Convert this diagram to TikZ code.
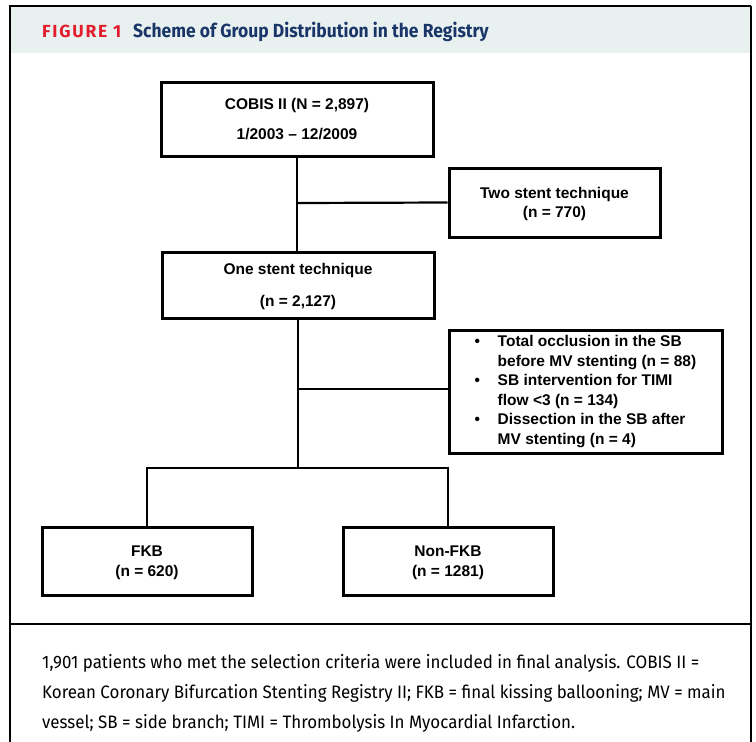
\documentclass[tikz,border=0pt]{standalone}
\usepackage{fontspec}
\setmainfont{Liberation Sans}
\newfontfamily\capfont{Fira Sans}[FakeStretch=0.94]
\newfontfamily\headfont{Fira Sans}[FakeStretch=0.92]
\newfontfamily\figfont{Fira Sans}[LetterSpace=10]
\definecolor{figred}{HTML}{E31D2D}
\definecolor{navy}{HTML}{1A3668}
\definecolor{headbg}{HTML}{E8F1F0}
\newcommand{\bul}{\textbullet}
\begin{document}
\begin{tikzpicture}[x=1pt,y=-1pt,
    box/.style={draw, line width=3pt, inner sep=0pt, align=center,
        font=\bfseries\fontsize{15.5}{19.5}\selectfont, text depth=-3pt},
    listbox/.style={draw, line width=3pt, inner sep=0pt, align=left,
        font=\bfseries\fontsize{15.5}{19.5}\selectfont},
    link/.style={line width=2.2pt}]
\path[use as bounding box] (0,0) rectangle (756,742);
% frame and header
\fill[headbg] (10,6) rectangle (751,53);
\draw[line width=1.6pt] (10,742) -- (10,6) -- (751,6);
\draw[line width=2.4pt] (751,6) -- (751,742);
\draw[line width=1.4pt] (10,624) -- (751,624);
\node[anchor=base west, inner sep=0, text=figred, font=\figfont\bfseries\fontsize{17.5}{20}\selectfont] (fig) at (42,37.5) {FIGURE 1};
\node[anchor=base west, inner sep=0, text=navy, font=\headfont\bfseries\fontsize{19}{20}\selectfont] (title) at (133,37.5) {Scheme of Group Distribution in the Registry};
% boxes
\node[box, minimum width=272pt, minimum height=74pt] (cobis) at (297,119) {COBIS II (N = 2,897)\\[11pt]1/2003 – 12/2009};
\node[box, minimum width=211pt, minimum height=69pt] (two) at (554.5,202.5) {Two stent technique\\(n = 770)};
\node[box, minimum width=272pt, minimum height=66pt] (one) at (298,285) {One stent technique\\[13pt](n = 2,127)};
\node[listbox, minimum width=273pt, minimum height=123pt] (excl) at (585.5,391.5) {%
    \begin{tabular}{@{}p{23pt}@{}l@{}}
    \bul & Total occlusion in the SB\\
         & before MV stenting (n = 88)\\
    \bul & SB intervention for TIMI\\
         & flow <3 (n = 134)\\
    \bul & Dissection in the SB after\\
         & MV stenting (n = 4)
    \end{tabular}};
\node[box, minimum width=210pt, minimum height=68pt] (fkb) at (147,561) {FKB\\(n = 620)};
\node[box, minimum width=210pt, minimum height=68pt] (nonfkb) at (448,561) {Non-FKB\\(n = 1281)};
% connectors
\coordinate (b1) at (298,203);
\coordinate (b2) at (298,389);
\coordinate (split) at (298,468);
\draw[link] (cobis.south) -- (cobis.south |- one.north);
\draw[link] (b1) -- (two.west);
\draw[link] (one.south) -- (split);
\draw[link] (b2) -- (excl.west |- b2);
\draw[link] (fkb.north) |- (split) -| (nonfkb.north);
% note
\node[anchor=north west, align=left, inner sep=0, font=\capfont\fontsize{18}{30}\selectfont] (note) at (42,654) {1,901 patients who met the selection criteria were included in final analysis. COBIS II =\\
Korean Coronary Bifurcation Stenting Registry II; FKB = final kissing ballooning; MV = main\\
vessel; SB = side branch; TIMI = Thrombolysis In Myocardial Infarction.};
\end{tikzpicture}
\end{document}
